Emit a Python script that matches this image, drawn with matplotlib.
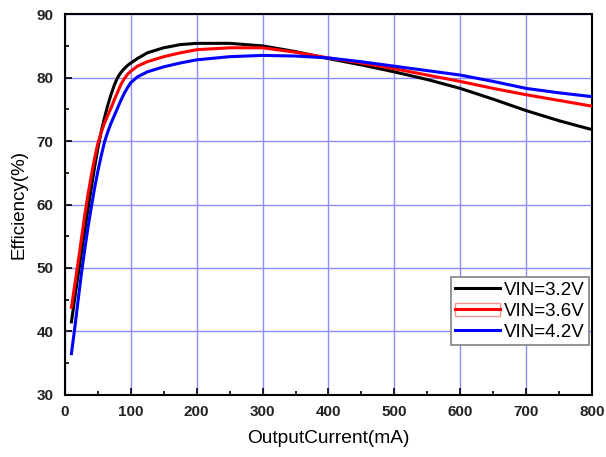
import matplotlib
matplotlib.use("Agg")
import matplotlib.pyplot as plt
from matplotlib.patches import Rectangle
from matplotlib.lines import Line2D
from matplotlib.ticker import MultipleLocator

current = [10, 15, 20, 25, 30, 35, 40, 45, 50, 55, 60, 65, 70, 75, 80, 85, 90, 95, 100, 110, 125, 150, 175, 200, 250,
           300, 350, 400, 450, 500, 550, 600, 650, 700, 750, 800]
eff_32 = [41.5, 45.2, 48.8, 52.3, 55.8, 59.2, 62.5, 65.8, 68.8, 71.4, 73.6, 75.6, 77.3, 78.8, 80.0, 80.8, 81.4, 81.9, 82.3,
          83.0, 83.9, 84.7, 85.2, 85.4, 85.4,
          85.0, 84.1, 83.0, 82.0, 80.9, 79.7, 78.3, 76.6, 74.8, 73.2, 71.8]
eff_36 = [43.8, 47.3, 50.8, 54.5, 58.2, 61.5, 64.5, 67.2, 69.6, 71.3, 72.8, 74.0, 75.2, 76.5, 77.7, 78.9, 79.8, 80.5, 81.0,
          81.8, 82.5, 83.3, 83.9, 84.4, 84.7,
          84.7, 84.0, 83.1, 82.3, 81.4, 80.4, 79.4, 78.3, 77.3, 76.4, 75.5]
eff_42 = [36.5, 40.5, 44.8, 49.0, 52.8, 56.3, 59.5, 62.5, 65.2, 67.6, 69.8, 71.4, 72.8, 74.0, 75.2, 76.4, 77.5, 78.4, 79.2,
          80.1, 80.9, 81.7, 82.3, 82.8, 83.3,
          83.5, 83.4, 83.1, 82.5, 81.8, 81.1, 80.4, 79.4, 78.3, 77.6, 77.0]
labels = ["VIN=3.2V", "VIN=3.6V", "VIN=4.2V"]

plt.rcParams['font.family'] = ['Liberation Sans', 'DejaVu Sans']

fig = plt.figure(figsize=(6.06, 4.57), dpi=100)
ax = fig.add_axes([0.107, 0.136, 0.870, 0.833])

ax.plot(current, eff_32, color='black', lw=2.2, zorder=3)
ax.plot(current, eff_36, color='red', lw=2.2, zorder=3)
ax.plot(current, eff_42, color='blue', lw=2.2, zorder=3)

ax.set_xlim(0, 800)
ax.set_ylim(30, 90)
ax.xaxis.set_major_locator(MultipleLocator(100))
ax.xaxis.set_minor_locator(MultipleLocator(50))
ax.yaxis.set_major_locator(MultipleLocator(10))
ax.yaxis.set_minor_locator(MultipleLocator(5))
ax.grid(True, which='major', color='#8c8cff', lw=1.0, zorder=0)
ax.tick_params(which='both', direction='in', top=False, right=False)
ax.tick_params(which='major', length=5, width=1.2)
ax.tick_params(which='minor', length=3, width=1.2)
ax.tick_params(axis='x', pad=7)
ax.tick_params(axis='y', pad=8)
for s in ax.spines.values():
    s.set_linewidth(1.5)
for lab in ax.get_xticklabels() + ax.get_yticklabels():
    lab.set_fontweight('bold')
    lab.set_fontsize(11)
    lab.set_color('#222222')

ax.set_xlabel("OutputCurrent(mA)", fontsize=13.8, labelpad=8)
ax.set_ylabel("Efficiency(%)", fontsize=13.5, labelpad=7)

h1 = Line2D([], [], color='black', lw=2.2)
h2 = (Rectangle((0, 0), 1, 1, facecolor='none', edgecolor='#ff9090', lw=1),
      Line2D([], [], color='red', lw=2.2))
h3 = Line2D([], [], color='blue', lw=2.2)
leg = ax.legend([h1, h2, h3], labels, loc='lower right', bbox_to_anchor=(0.995, 0.13),
                borderaxespad=0, fontsize=13.5, handlelength=2.4, labelspacing=0.2,
                handletextpad=0.2, borderpad=0.25,
                fancybox=False, framealpha=1, edgecolor='#808080')
leg.get_frame().set_linewidth(1.2)

fig.savefig("out.png", dpi=100)
